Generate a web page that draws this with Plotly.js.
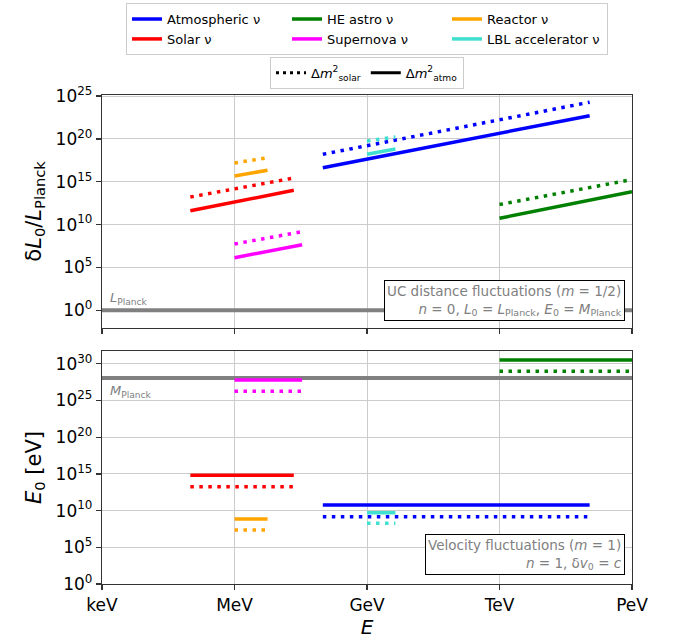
<!DOCTYPE html>
<html>
<head>
<meta charset="utf-8">
<script src="https://cdn.plot.ly/plotly-3.0.1.min.js"></script>
<style>html,body{margin:0;padding:0;background:#fff;}#chart{width:677px;height:643px;}</style>
</head>
<body>
<div id="chart"></div>
<script>
// ---- data (energies in eV) ----
const sources = ['Atmospheric ν', 'HE astro ν', 'Reactor ν', 'Solar ν', 'Supernova ν', 'LBL accelerator ν'];
const colors  = ['#0000ff', '#008000', '#ffa500', '#ff0000', '#ff00ff', '#40e0d0'];
const eMin    = [1e8, 1e12, 1e6, 1e5, 1e6, 1e9];
const eMax    = [1.1e14, 1e15, 5.6e6, 2.2e7, 3.4e7, 4.4e9];
// top panel: deltaL0 / L_Planck at eMin and eMax
const dLatmoStart  = [4.4e16, 5.5e10, 4.7e15, 4.2e11, 1.4e6, 1.6e18];
const dLatmoEnd    = [5.1e22, 6.9e13, 2.2e16, 1.0e14, 4.5e7, 6.6e18];
const dLsolarStart = [1.6e18, 2.2e12, 1.55e17, 1.66e13, 5.5e7, 5.6e19];
const dLsolarEnd   = [1.9e24, 1.8e15, 6.3e17, 2.75e15, 1.5e9, 1.66e20];
// bottom panel: E0 [eV]
const E0atmo  = [5.7e10, 3.3e30, 7.2e8, 6.5e14, 6.2e27, 5.1e9];
const E0solar = [1.5e9, 9.5e28, 2.3e7, 1.8e13, 1.8e26, 1.9e8];
// Planck references
const LPlanck = 1;        // deltaL0/L_Planck
const MPlanck = 1.22e28;  // eV
const xTickVals = [1e3, 1e6, 1e9, 1e12, 1e15];
const xTickText = ['keV', 'MeV', 'GeV', 'TeV', 'PeV'];
const yTopTickVals = [1e0, 1e5, 1e10, 1e15, 1e20, 1e25];
const yTopTickText = ['10<sup>0</sup>', '10<sup>5</sup>', '10<sup>10</sup>', '10<sup>15</sup>', '10<sup>20</sup>', '10<sup>25</sup>'];
const yBotTickVals = [1e0, 1e5, 1e10, 1e15, 1e20, 1e25, 1e30];
const yBotTickText = ['10<sup>0</sup>', '10<sup>5</sup>', '10<sup>10</sup>', '10<sup>15</sup>', '10<sup>20</sup>', '10<sup>25</sup>', '10<sup>30</sup>'];
const styleLabels = ['Δ<i>m</i><sup>2</sup><sub>solar</sub>', 'Δ<i>m</i><sup>2</sup><sub>atmo</sub>'];

const LW = 3.5;
const DOT = '3.5px,5.5px';
const GRAY = '#808080';
const traces = [];

// Planck lines
traces.push({x: [1e3, 1e15], y: [LPlanck, LPlanck], xaxis: 'x2', yaxis: 'y2', mode: 'lines',
  line: {color: GRAY, width: 4}, showlegend: false, hoverinfo: 'skip'});
traces.push({x: [1e3, 1e15], y: [MPlanck, MPlanck], xaxis: 'x', yaxis: 'y', mode: 'lines',
  line: {color: GRAY, width: 4}, showlegend: false, hoverinfo: 'skip'});

sources.forEach((name, i) => {
  // top panel
  traces.push({x: [eMin[i], eMax[i]], y: [dLsolarStart[i], dLsolarEnd[i]], xaxis: 'x2', yaxis: 'y2',
    mode: 'lines', line: {color: colors[i], width: LW, dash: DOT}, showlegend: false});
  traces.push({x: [eMin[i], eMax[i]], y: [dLatmoStart[i], dLatmoEnd[i]], xaxis: 'x2', yaxis: 'y2',
    mode: 'lines', line: {color: colors[i], width: LW}, name: name, legend: 'legend', showlegend: true});
  // bottom panel
  traces.push({x: [eMin[i], eMax[i]], y: [E0solar[i], E0solar[i]], xaxis: 'x', yaxis: 'y',
    mode: 'lines', line: {color: colors[i], width: LW, dash: DOT}, showlegend: false});
  traces.push({x: [eMin[i], eMax[i]], y: [E0atmo[i], E0atmo[i]], xaxis: 'x', yaxis: 'y',
    mode: 'lines', line: {color: colors[i], width: LW}, showlegend: false});
});

// style legend entries
traces.push({x: [null], y: [null], xaxis: 'x2', yaxis: 'y2', mode: 'lines', name: styleLabels[0],
  line: {color: '#000', width: 3, dash: '3px,4px'}, legend: 'legend2', showlegend: true});
traces.push({x: [null], y: [null], xaxis: 'x2', yaxis: 'y2', mode: 'lines', name: styleLabels[1],
  line: {color: '#000', width: 3}, legend: 'legend2', showlegend: true});

const FONT = 'DejaVu Sans, sans-serif';
const axisCommon = {
  type: 'log', showline: true, mirror: true, linecolor: '#333', linewidth: 1.2,
  ticks: 'outside', ticklen: 5, tickcolor: '#333', tickwidth: 1.2,
  showgrid: true, gridcolor: '#cccccc', gridwidth: 1, zeroline: false,
  tickfont: {family: FONT, size: 17, color: '#000'}
};

const layout = {
  width: 677, height: 643,
  margin: {l: 102, r: 45.3, t: 95, b: 59, pad: 0, autoexpand: false},
  paper_bgcolor: '#fff', plot_bgcolor: '#fff',
  font: {family: FONT, color: '#000'},
  xaxis: Object.assign({}, axisCommon, {anchor: 'y', range: [3, 15], tickvals: xTickVals, ticktext: xTickText,
    title: {text: '<i>E</i>', font: {family: FONT, size: 20}, standoff: 4}}),
  xaxis2: Object.assign({}, axisCommon, {anchor: 'y2', matches: 'x', range: [3, 15], tickvals: xTickVals,
    showticklabels: false}),
  yaxis: Object.assign({}, axisCommon, {anchor: 'x', domain: [0, 0.4765], range: [0, 31.75],
    tickvals: yBotTickVals, ticktext: yBotTickText,
    title: {text: '<i>E</i><sub>0</sub> [eV]', font: {family: FONT, size: 21}, standoff: 8}}),
  yaxis2: Object.assign({}, axisCommon, {anchor: 'x2', domain: [0.524, 1], range: [-2.03, 25.12],
    tickvals: yTopTickVals, ticktext: yTopTickText,
    title: {text: 'δ<i>L</i><sub>0</sub>/<i>L</i><sub>Planck</sub>', font: {family: FONT, size: 21}, standoff: 8}}),
  legend: {x: 0.5, xanchor: 'center', y: 1.188, yanchor: 'top', orientation: 'h', entrywidth: 115,
    bordercolor: '#cccccc', borderwidth: 1, bgcolor: '#fff', font: {family: FONT, size: 13}, itemwidth: 30,
    traceorder: 'normal'},
  legend2: {x: 0.5, xanchor: 'center', y: 1.078, yanchor: 'top', orientation: 'h',
    bordercolor: '#cccccc', borderwidth: 1, bgcolor: '#fff', font: {family: FONT, size: 13}, itemwidth: 30},
  annotations: [
    {xref: 'paper', yref: 'y2', x: 0.012, y: 0.12, xanchor: 'left', yanchor: 'bottom', showarrow: false,
      text: '<i>L</i><sub>Planck</sub>', font: {family: FONT, size: 13, color: GRAY}},
    {xref: 'paper', yref: 'y', x: 0.012, y: 27.6, xanchor: 'left', yanchor: 'top', showarrow: false,
      text: '<i>M</i><sub>Planck</sub>', font: {family: FONT, size: 13, color: GRAY}},
    {xref: 'paper', yref: 'paper', x: 0.9875, y: 0.538, xanchor: 'right', yanchor: 'bottom', showarrow: false,
      align: 'right', bordercolor: '#000', borderwidth: 1, borderpad: 2, bgcolor: '#fff',
      text: 'UC distance fluctuations (<i>m</i> = 1/2)<br><i>n</i> = 0, <i>L</i><sub>0</sub> = <i>L</i><sub>Planck</sub>, <i>E</i><sub>0</sub> = <i>M</i><sub>Planck</sub>',
      font: {family: FONT, size: 13.5, color: GRAY}},
    {xref: 'paper', yref: 'paper', x: 0.9875, y: 0.018, xanchor: 'right', yanchor: 'bottom', showarrow: false,
      align: 'right', bordercolor: '#000', borderwidth: 1, borderpad: 2, bgcolor: '#fff',
      text: 'Velocity fluctuations (<i>m</i> = 1)<br><i>n</i> = 1, δ<i>v</i><sub>0</sub> = <i>c</i>',
      font: {family: FONT, size: 13.5, color: GRAY}}
  ]
};

Plotly.newPlot('chart', traces, layout, {displayModeBar: false, staticPlot: true});
</script>
</body>
</html>
